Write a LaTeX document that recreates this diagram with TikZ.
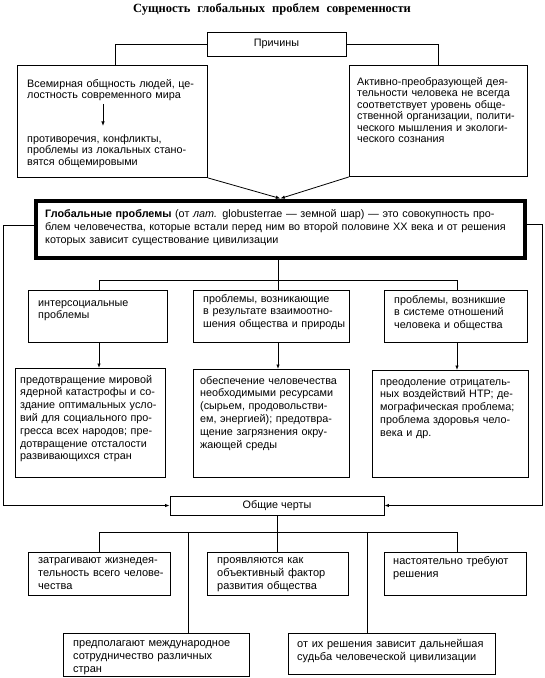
\documentclass[tikz,border=0pt]{standalone}
\usepackage{fontspec}
\setmainfont{Liberation Sans}
\newfontfamily\titlefont{Liberation Serif}
\usetikzlibrary{arrows.meta,calc}
\newdimen\lw
\newcommand\jl[1]{\leavevmode\hbox to\lw{#1}\par}
\newcommand\rl[1]{\leavevmode\hbox to\lw{#1\hfil}\par}
\begin{document}
\begin{tikzpicture}[x=1pt,y=-1pt,
  bx/.style={draw, line width=0.9pt, inner sep=0pt, anchor=north west},
  cbx/.style={draw, line width=0.9pt, inner sep=0pt, font=\fontsize{10.8}{12}\selectfont},
  txt/.style={inner sep=0pt, anchor=base west, text width=#1, execute at begin node={\lw=#1\relax}},
  fa/.style={font=\fontsize{10.8}{11.5}\selectfont},
  fb/.style={font=\fontsize{10.8}{12.8}\selectfont},
  fc/.style={font=\fontsize{11}{13.3}\selectfont},
  ln/.style={line width=0.8pt},
  arr/.style={line width=0.8pt, -{Latex[length=4.5pt,width=3.5pt]}}]
\useasboundingbox (0,0) rectangle (545,678);

% title
\node[font=\titlefont\bfseries\fontsize{12.5}{14}\selectfont, inner sep=0pt] (T) at (272,9)
  {Сущность\hspace{7pt}глобальных\hspace{7pt}проблем\hspace{7pt}современности};

% causes
\node[cbx, minimum width=139pt, minimum height=24pt] (K) at (276.5,44) {Причины};
\node[bx, minimum width=190pt, minimum height=112pt] (L) at (17,65) {};
\node[bx, minimum width=178pt, minimum height=111pt] (R) at (349,65) {};
\node[txt=170pt, fa] (L1) at (27,87) {\jl{Всемирная общность людей, це-}\rl{лостность современного мира}};
\node[txt=170pt, fa] (L2) at (27,142) {\rl{противоречия, конфликты,}\jl{проблемы из локальных стано-}\rl{вятся общемировыми}};
\node[txt=162pt, fa] (R1) at (357,85) {\jl{Активно-преобразующей дея-}\jl{тельности человека не всегда}\jl{соответствует уровень обще-}\jl{ственной организации, полити-}\jl{ческого мышления и экологи-}\rl{ческого сознания}};

\coordinate (ax) at (103,0);
\coordinate (k1) at (115,0);
\coordinate (k2) at (438,0);
\draw[ln] (K.west) -| (L.north -| k1);
\draw[ln] (K.east) -| (R.north -| k2);
\draw[arr, shorten <=3pt, shorten >=8pt] (L1.south -| ax) -- (L2.north -| ax);

% global problems
\node[bx, line width=3.3pt, minimum width=490pt, minimum height=58pt] (G) at (33.7,198.5) {};
\draw[line width=0.8pt] ([shift={(3.4,3.4)}]G.north west) rectangle ([shift={(-3.4,-3.4)}]G.south east);
\node[txt=462pt, font=\fontsize{10.8}{13}\selectfont] (G1) at (45,217)
  {\jl{\textbf{Глобальные проблемы} (от \textit{лат.} globusterrae — земной шар) — это совокупность про-}\jl{блем человечества, которые встали перед ним во второй половине XX века и от решения}\rl{которых зависит существование цивилизации}};
\draw[arr] (L.south east) -- (G.north);
\draw[arr] (R.south west) -- (G.north);

% categories
\node[bx, minimum width=139pt, minimum height=52pt] (P1) at (28,290) {};
\node[bx, minimum width=156pt, minimum height=52pt] (P2) at (193,290) {};
\node[bx, minimum width=143pt, minimum height=52pt] (P3) at (384,290) {};
\node[txt=120pt, fb] (P1t) at (38,306) {\rl{интерсоциальные}\rl{проблемы}};
\node[txt=142pt, fb] (P2t) at (203,302) {\rl{проблемы, возникающие}\jl{в результате взаимоотно-}\jl{шения общества и природы}};
\node[txt=120pt, fb] (P3t) at (394,303) {\rl{проблемы, возникшие}\rl{в системе отношений}\rl{человека и общества}};

\coordinate (c1) at (99,280);
\coordinate (c2) at (278,280);
\coordinate (c3) at (457,280);
\draw[ln] (G.south -| c2) -- (c2);
\draw[ln] (P1.north -| c1) -- (c1) -- (c3) -- (P3.north -| c3);
\draw[ln] (c2) -- (P2.north -| c2);

\node[bx, minimum width=150pt, minimum height=109pt] (Q1) at (15,368) {};
\node[bx, minimum width=156pt, minimum height=108pt] (Q2) at (193,369) {};
\node[bx, minimum width=156pt, minimum height=107pt] (Q3) at (372,370) {};
\node[txt=140pt, fb] (Q1t) at (20,383) {\jl{предотвращение мировой}\jl{ядерной катастрофы и со-}\jl{здание оптимальных усло-}\jl{вий для социального про-}\jl{гресса всех народов; пре-}\jl{дотвращение отсталости}\rl{развивающихся стран}};
\node[txt=140pt, fb] (Q2t) at (200,384) {\jl{обеспечение человечества}\jl{необходимыми ресурсами}\jl{(сырьем, продовольстви-}\jl{ем, энергией); предотвра-}\jl{щение загрязнения окру-}\rl{жающей среды}};
\node[txt=142pt, fb] (Q3t) at (380,385) {\jl{преодоление отрицатель-}\jl{ных воздействий НТР; де-}\jl{мографическая проблема;}\jl{проблема здоровья чело-}\rl{века и др.}};
\draw[arr] (P1.south -| c1) -- (Q1.north -| c1);
\draw[arr] (P2.south -| c2) -- (Q2.north -| c2);
\draw[arr] (P3.south -| c3) -- (Q3.north -| c3);

% common features
\node[cbx, minimum width=214pt, minimum height=19pt] (O) at (277,505.5) {Общие черты};
\coordinate (lx) at (3,0);
\coordinate (rx) at (542,0);
\coordinate (gl) at ([yshift=4pt]G.west);
\coordinate (gr) at ([yshift=5pt]G.east);
\draw[arr] (gl) -- (gl -| lx) |- (O.west);
\draw[arr] (gr) -- (gr -| rx) |- (O.east);

\node[bx, minimum width=142pt, minimum height=43pt] (A) at (28,552) {};
\node[bx, minimum width=141pt, minimum height=43pt] (B) at (207,552) {};
\node[bx, minimum width=142pt, minimum height=43pt] (C) at (384,552) {};
\node[bx, minimum width=186pt, minimum height=43pt] (D) at (63,633) {};
\node[bx, minimum width=207pt, minimum height=41pt] (E) at (288,633) {};
\node[txt=125pt, fc] (At) at (38,563) {\jl{затрагивают жизнедея-}\jl{тельность всего челове-}\rl{чества}};
\node[txt=125pt, fc] (Bt) at (217,563) {\rl{проявляются как}\rl{объективный фактор}\rl{развития общества}};
\node[txt=125pt, fc] (Ct) at (393,564) {\rl{настоятельно требуют}\rl{решения}};
\node[txt=165pt, fc] (Dt) at (73,646) {\rl{предполагают международное}\rl{сотрудничество различных}\rl{стран}};
\node[txt=190pt, fc] (Et) at (297,647) {\rl{от их решения зависит дальнейшая}\rl{судьба человеческой цивилизации}};

\coordinate (d1) at (99,532);
\coordinate (d2) at (188,532);
\coordinate (d3) at (277,532);
\coordinate (d4) at (367,532);
\coordinate (d5) at (457,532);
\draw[ln] (O.south) -- (d3);
\draw[ln] (d1) -- (d5);
\draw[ln] (d1) -- (A.north -| d1);
\draw[ln] (d2) -- (D.north -| d2);
\draw[ln] (d3) -- (B.north -| d3);
\draw[ln] (d4) -- (E.north -| d4);
\draw[ln] (d5) -- (C.north -| d5);
\end{tikzpicture}
\end{document}
